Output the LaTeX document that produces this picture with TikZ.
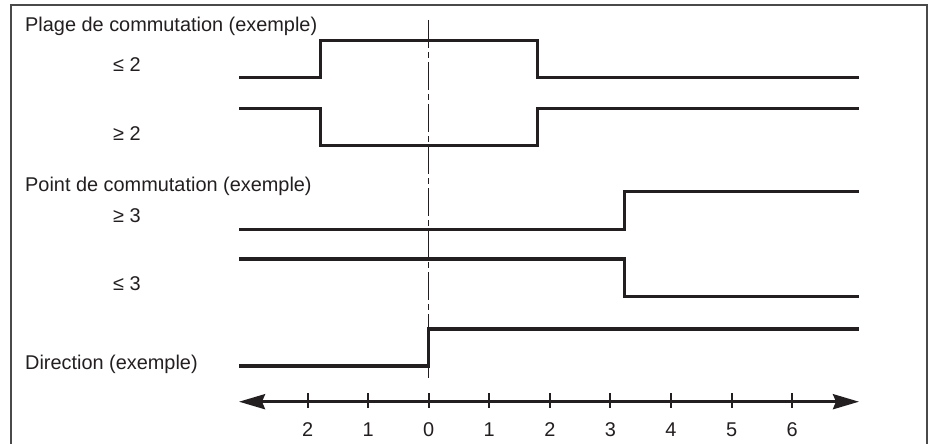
\documentclass[tikz,border=0pt]{standalone}
\usepackage{fontspec}
\setmainfont{Liberation Sans}
\usetikzlibrary{arrows.meta}
\definecolor{ink}{HTML}{231F20}
\definecolor{framec}{HTML}{4A4A4A}
\begin{document}
\begin{tikzpicture}[x=1pt,y=-1pt,
  signal/.style={line width=3.1pt,draw=ink,line join=miter,line cap=butt},
  lbl/.style={anchor=base west,inner sep=0pt,text=ink,font=\fontsize{19.9}{22}\selectfont},
  num/.style={anchor=base,inner sep=0pt,text=ink,font=\fontsize{19.9}{22}\selectfont},
  tickmark/.style={line width=2pt,draw=ink},
  centerline/.style={line width=0.9pt,draw=ink,dash pattern=on 28pt off 4pt on 6pt off 4pt}]
\useasboundingbox (0,0) rectangle (930,444);
% frame
\draw[framec,line width=1.8pt] (11,460) -- (11,5) -- (927,5) -- (927,460);
% labels
\node[lbl] (t1) at (25,32) {Plage de commutation (exemple)};
\node[lbl] (l1) at (113,72) {≤ 2};
\node[lbl] (l2) at (113,140) {≥ 2};
\node[lbl] (t2) at (25,191) {Point de commutation (exemple)};
\node[lbl] (l3) at (113,222) {≥ 3};
\node[lbl] (l4) at (113,290) {≤ 3};
\node[lbl] (t3) at (25,369) {Direction (exemple)};
% center dash-dot line
\draw[centerline] (428.7,20) -- (428.7,378);
% signals
\draw[signal] (239,77.7) -- (320.8,77.7) -- (320.8,40.5) -- (537.4,40.5) -- (537.4,77.7) -- (859,77.7);
\draw[signal] (239,108.3) -- (320.8,108.3) -- (320.8,145.7) -- (537.4,145.7) -- (537.4,108.3) -- (859,108.3);
\draw[signal] (239,229.5) -- (624.5,229.5) -- (624.5,191.9) -- (859,191.9);
\draw[signal] (239,259) -- (624.5,259) -- (624.5,296.7) -- (859,296.7);
\draw[signal] (239,366) -- (428.7,366) -- (428.7,329) -- (859,329);
% axis
\coordinate (al) at (239,401.7);
\coordinate (ar) at (859,401.7);
\draw[line width=3pt,draw=ink,{Stealth[length=26pt,width=15pt,inset=3pt]}-{Stealth[length=26pt,width=15pt,inset=3pt]}] (al) -- (ar);
\foreach \x/\n [count=\i] in {307.6/2,368.2/1,428.7/0,489.2/1,549.8/2,610.4/3,671/4,731.6/5,792.2/6}{
  \draw[tickmark] (\x,393) -- (\x,408);
  \node[num] (n\i) at (\x,436) {\n};
}
\end{tikzpicture}
\end{document}
